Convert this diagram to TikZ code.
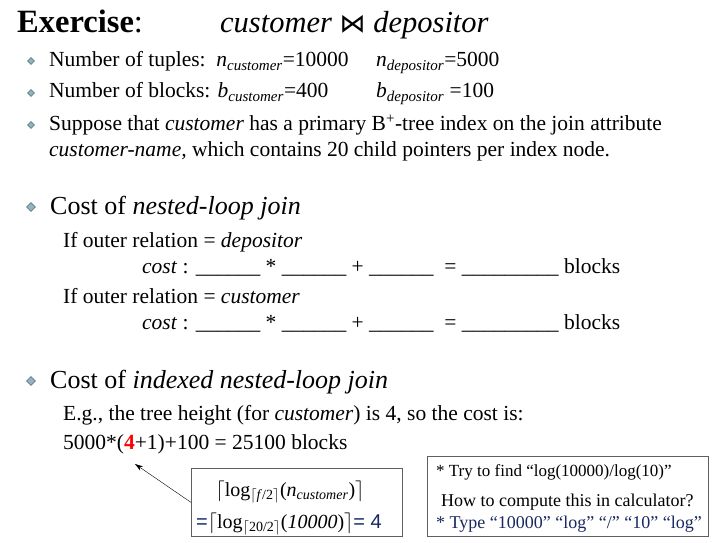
\documentclass[tikz,border=0pt]{standalone}
\usepackage{fontspec}
\setmainfont{Liberation Serif}
\newfontfamily\symfont{DejaVu Sans}
\newfontfamily\armfont{Liberation Sans}
\usetikzlibrary{arrows.meta, positioning, shapes.geometric}

\definecolor{bulletfill}{RGB}{150,178,188}
\definecolor{bulletline}{RGB}{95,125,140}
\definecolor{navy}{RGB}{25,40,95}
\definecolor{boxline}{RGB}{95,95,95}
\newcommand{\subvar}[2]{\textit{#1}\textsubscript{\textit{#2}}}

\begin{document}
\begin{tikzpicture}[x=1pt, y=-1pt,
    txt/.style={anchor=base west, inner sep=0pt, font=\fontsize{21.5}{25}\selectfont},
    head/.style={anchor=base west, inner sep=0pt, font=\fontsize{26}{30}\selectfont},
    ttl/.style={anchor=base west, inner sep=0pt, font=\fontsize{30.5}{34}\selectfont},
    note/.style={anchor=base west, inner sep=0pt, font=\fontsize{17}{20}\selectfont},
    panel/.style={draw=boxline, thick, anchor=north west, inner sep=0pt},
    bullet/.style={diamond, draw=bulletline, fill=bulletfill, inner sep=0pt, line width=0.6pt}]
    \useasboundingbox (0,0) rectangle (713,543);
    % Title
    \node[ttl, font=\fontsize{32.5}{36}\selectfont] (title) at (17,33) {\textbf{Exercise}:};
    \node[ttl] (joinexpr) at (220,33) {\textit{customer} {\symfont\fontsize{26}{30}\selectfont ⋈} \textit{depositor}};
    % Bullets
    \foreach \n/\y/\s in {a/61/7, b/93/7, c/125/7, d/207/9, e/381/9}
        \node[bullet, minimum size=\s pt] (bul\n) at (31,\y) {};
    % Given data
    \node[txt] (tuples) at (49,67) {Number of tuples:~~\subvar{n}{customer}=10000};
    \node[txt] (ndep) at (376,67) {\subvar{n}{depositor}=5000};
    \node[txt] (blocks) at (49,98) {Number of blocks: \subvar{b}{customer}=400};
    \node[txt] (bdep) at (376,98) {\subvar{b}{depositor} =100};
    \node[txt] (suppose) at (49,131) {Suppose that \textit{customer} has a primary B\textsuperscript{+}-tree index on the join attribute};
    \node[txt] (suppose2) at (49,157) {\textit{customer-name,} which contains 20 child pointers per index node.};
    % Nested-loop join
    \node[head] (nlj) at (50,214) {Cost of \textit{nested-loop join}};
    \node[txt] (outer1) at (63,247) {If outer relation = \textit{depositor}};
    \node[txt] (cost1) at (142,273) {\textit{cost} : \_\_\_\_\_\_ * \_\_\_\_\_\_ + \_\_\_\_\_\_ ~= \_\_\_\_\_\_\_\_\_ blocks};
    \node[txt] (outer2) at (63,303) {If outer relation = \textit{customer}};
    \node[txt] (cost2) at (142,329) {\textit{cost} : \_\_\_\_\_\_ * \_\_\_\_\_\_ + \_\_\_\_\_\_ ~= \_\_\_\_\_\_\_\_\_ blocks};
    % Indexed nested-loop join
    \node[head] (inlj) at (50,388) {Cost of \textit{indexed nested-loop join}};
    \node[txt] (eg) at (63,420) {E.g., the tree height (for \textit{customer}) is 4, so the cost is:};
    \node[txt] (total) at (63,449) {5000*(\textcolor{red}{\textbf{4}}+1)+100 = 25100 blocks};
    % Height formula box
    \node[panel, minimum width=211pt, minimum height=68pt] (formbox) at (191,468) {};
    \node[inner sep=0pt, anchor=base, font=\fontsize{20}{24}\selectfont] (fmla1) at (290,496)
        {$\big\lceil$log\textsubscript{$\lceil$\textit{f}/2$\rceil$}(\subvar{n}{customer})$\big\rceil$};
    \node[inner sep=0pt, anchor=base west, font=\fontsize{20}{24}\selectfont] (fmla2) at (196,528)
        {{\armfont\color{navy}=}$\big\lceil$log\textsubscript{$\lceil$20/2$\rceil$}(\textit{10000})$\big\rceil${\armfont\color{navy} = 4}};
    \coordinate (tip) at (135,464);
    \draw[-{Stealth[length=8pt, width=5pt]}] (formbox.west) -- (tip);
    % Calculator hint box
    \node[panel, minimum width=281pt, minimum height=80pt] (hintbox) at (427,456) {};
    \node[note] (hint1) at (436,476) {* Try to find “log(10000)/log(10)”};
    \node[note, font=\fontsize{18}{21}\selectfont] (hint2) at (441,506) {How to compute this in calculator?};
    \node[note, font=\fontsize{18}{21}\selectfont, text=navy] (hint3) at (436,528) {* Type “10000” “log” “/” “10” “log”};
\end{tikzpicture}
\end{document}
